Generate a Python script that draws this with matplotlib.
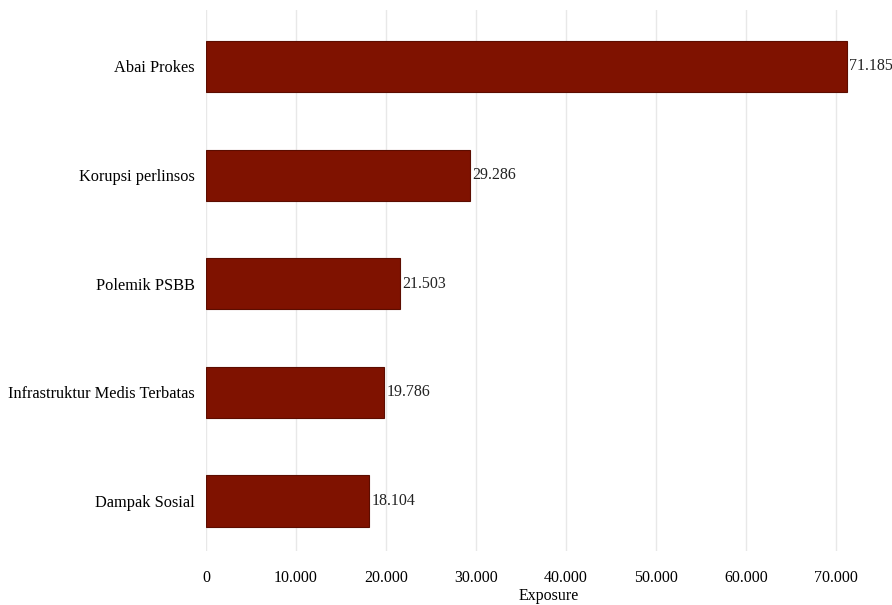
import matplotlib.pyplot as plt
from matplotlib.ticker import FuncFormatter

topics = ['Abai Prokes', 'Korupsi perlinsos', 'Polemik PSBB',
          'Infrastruktur Medis Terbatas', 'Dampak Sosial']
exposure = [71185, 29286, 21503, 19786, 18104]

plt.rcParams['font.family'] = ['Liberation Serif', 'DejaVu Serif']

fig = plt.figure(figsize=(8.92, 6.05), dpi=100)
ax = fig.add_axes([206 / 892, 1 - 551 / 605, (892 - 206) / 892, (551 - 10) / 605])

pos = list(range(len(topics)))[::-1]
ax.barh(pos, exposure, height=0.47, color='#7f1200', edgecolor='#5c0d00',
        linewidth=0.8, zorder=2)
for p, v in zip(pos, exposure):
    ax.text(v + 250, p, f'{v:,}'.replace(',', '.'), va='center', ha='left',
            fontsize=11.5, color='#222222')

ax.set_yticks(pos)
ax.set_yticklabels(topics, fontsize=11.8)
ax.set_xlim(0, 76200)
ax.set_ylim(-0.46, 4.52)
ax.set_xticks(range(0, 70001, 10000))
ax.xaxis.set_major_formatter(FuncFormatter(lambda x, _: f'{int(x):,}'.replace(',', '.')))
ax.tick_params(axis='x', labelsize=11.5, length=0, pad=14)
ax.tick_params(axis='y', length=0, pad=8)
ax.grid(axis='x', color='#e8e8e8', linewidth=1, zorder=0)
for s in ax.spines.values():
    s.set_visible(False)
ax.set_xlabel('Exposure', fontsize=11.5, labelpad=1)

fig.savefig('out.png', dpi=100)
